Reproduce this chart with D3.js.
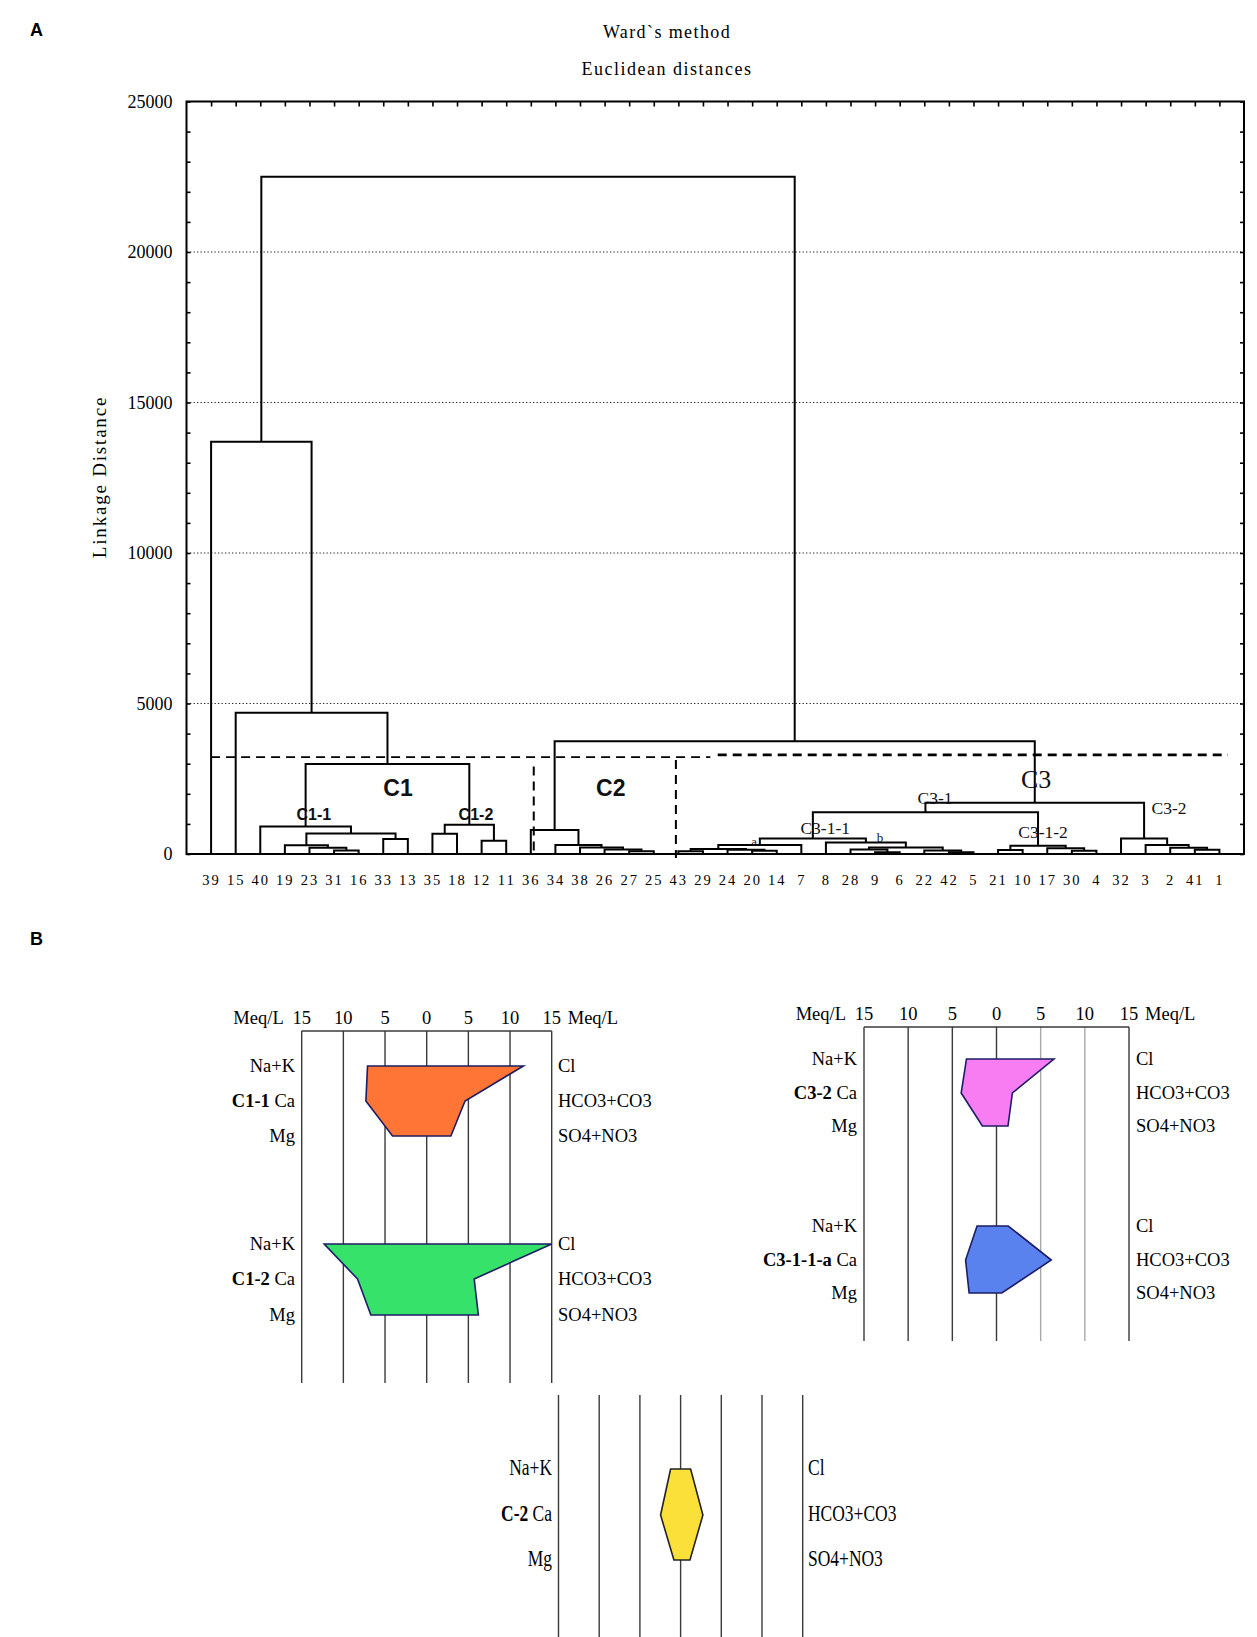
<!DOCTYPE html>
<html><head><meta charset="utf-8">
<script src="https://cdn.jsdelivr.net/npm/d3@7"></script>
<style>body{margin:0;background:#fff}svg{display:block}</style>
</head><body>
<svg id="chart" width="1257" height="1637"></svg>
<script>
// ---------------- DATA ----------------
const leaves = ["39","15","40","19","23","31","16","33","13","35","18","12","11","36","34","38","26","27","25","43","29","24","20","14","7","8","28","9","6","22","42","5","21","10","17","30","4","32","3","2","41","1"];
// [left node, right node, linkage distance]; "mN" = result of merge N
const merges = [
  ["31","16",120],["23","m0",210],["19","m1",290],["33","13",500],["m2","m3",685],["40","m4",910],
  ["35","18",675],["12","11",440],["m6","m7",970],["m5","m8",2990],["15","m9",4690],["39","m10",13700],
  ["27","25",90],["26","m12",150],["38","m13",220],["34","m14",300],["36","m15",800],
  ["43","29",90],["20","14",110],["24","m18",140],["m17","m19",170],["m20","7",295],
  ["9","6",60],["28","m22",150],["42","5",60],["22","m24",120],["m23","m25",220],["8","m26",386],
  ["m21","m27",519],
  ["21","10",130],["30","4",110],["17","m30",190],["m29","m31",276],
  ["m28","m32",1390],
  ["41","1",140],["2","m34",210],["3","m35",300],["32","m36",519],
  ["m33","m37",1700],["m16","m38",3750],["m11","m39",22500]
];
const yTickValues = [0,5000,10000,15000,20000,25000];
const gridValues = [5000,10000,15000,20000];
// phenon (cut) line segments: [from leaf pos, to leaf pos, level]
const cutSegments = [[1,21.3,3217],[21.6,42.35,3293]];
// vertical dashed separators: [leaf pos, top level]
const separators = [[14.12,2904],[19.9,3127]];
// cluster annotations: [text, leaf pos, level, kind]
const clusterLabels = [
  ["C1",8.6,1930,"big"],["C2",17.25,1930,"big"],["C1-1",5.18,1130,"sub"],["C1-2",11.77,1130,"sub"],
  ["C3",34.55,2195,"c3"],["C3-1",30.44,1663,"c3s"],["C3-2",39.95,1330,"c3s"],
  ["C3-1-1",25.97,665,"c3s"],["C3-1-2",34.83,532,"c3s"],["a",23.08,266,"tiny"],["b",28.2,400,"tiny"]
];

// Stiff diagrams
const stiffGroups = ["C1-1","C1-2","C3-2","C3-1-1-a","C-2"];
const cations = ["Na+K","Ca","Mg"];
const anions = ["Cl","HCO3+CO3","SO4+NO3"];
const cationMeq = [[7.1,7.3,4.1],[12.3,8.3,6.7],[3.4,4.0,1.6],[2.2,3.5,3.1],[1.23,2.46,0.82]];
const anionMeq  = [[11.6,4.6,2.9],[15.0,5.7,6.2],[6.5,1.8,1.3],[1.33,6.2,0.6],[1.23,2.74,1.15]];
const stiffTicks = [-15,-10,-5,0,5,10,15];
const groupColors = ["#fe7535","#36e26a","#f87cf2","#5a82ee","#fbe03a"];

// ---------------- CHART ----------------
const svg = d3.select("#chart");
const serif = "'Liberation Serif','Times New Roman',serif";
const sans = "'Liberation Sans',Arial,sans-serif";

svg.append("text").attr("x",30).attr("y",36).attr("font-family",sans).attr("font-weight","bold").attr("font-size",18).text("A");
svg.append("text").attr("x",30).attr("y",945).attr("font-family",sans).attr("font-weight","bold").attr("font-size",18).text("B");

const x = d3.scaleLinear().domain([0,43]).range([186.5,1244]);
const y = d3.scaleLinear().domain([0,25000]).range([854,101.5]);

svg.append("text").attr("x",667).attr("y",38).attr("text-anchor","middle").attr("font-family",serif)
  .attr("font-size",18).attr("letter-spacing",1.4).text("Ward`s method");
svg.append("text").attr("x",667).attr("y",75).attr("text-anchor","middle").attr("font-family",serif)
  .attr("font-size",18).attr("letter-spacing",1.5).text("Euclidean distances");
svg.append("text").attr("transform","translate(106,477) rotate(-90)").attr("text-anchor","middle")
  .attr("font-family",serif).attr("font-size",19).attr("letter-spacing",1.8).text("Linkage Distance");

const g = svg.append("g");
// grid
g.selectAll("line.grid").data(gridValues).join("line").attr("class","grid")
  .attr("x1",x(0)).attr("x2",x(43)).attr("y1",d=>y(d)).attr("y2",d=>y(d))
  .attr("stroke","#222").attr("stroke-width",1.2).attr("stroke-dasharray","1.3,2.2");

// axes
const minor = d3.range(0,25001,1000);
const axL = g.append("g").attr("transform",`translate(${x(0)},0)`)
  .call(d3.axisLeft(y).tickValues(minor).tickSizeInner(-4).tickSizeOuter(0).tickPadding(14)
    .tickFormat(d=>yTickValues.includes(d)?d:""));
axL.selectAll("text").attr("font-family",serif).attr("font-size",18).attr("fill","#000");
const axR = g.append("g").attr("transform",`translate(${x(43)},0)`)
  .call(d3.axisRight(y).tickValues(minor).tickSizeInner(-4).tickSizeOuter(0).tickFormat(""));
const axT = g.append("g").attr("transform",`translate(0,${y(25000)})`)
  .call(d3.axisTop(x).tickValues(d3.range(1,43)).tickSizeInner(-5).tickSizeOuter(0).tickFormat(""));
const axB = g.append("g").attr("transform",`translate(0,${y(0)})`)
  .call(d3.axisBottom(x).tickValues(d3.range(1,43)).tickSize(0).tickPadding(21).tickFormat(i=>leaves[i-1]));
axB.selectAll("text").attr("font-family",serif).attr("font-size",14.5).attr("letter-spacing",2).attr("fill","#000");
[axL,axR,axT,axB].forEach(a=>{a.select(".domain").remove(); a.selectAll("line").attr("stroke","#000").attr("stroke-width",1.6);});
g.append("rect").attr("x",x(0)).attr("y",y(25000)).attr("width",x(43)-x(0)).attr("height",y(0)-y(25000))
  .attr("fill","none").attr("stroke","#000").attr("stroke-width",2);

// dendrogram
const pos = {};
leaves.forEach((l,i)=>pos[l]={p:i+1,h:0});
const links = merges.map(([a,b,h],i)=>{
  const A=pos[a], B=pos[b];
  pos["m"+i]={p:(A.p+B.p)/2,h:h};
  return {A,B,h};
});
g.selectAll("path.link").data(links).join("path").attr("class","link")
  .attr("d",d=>`M${x(d.A.p)},${y(d.A.h)}V${y(d.h)}H${x(d.B.p)}V${y(d.B.h)}`)
  .attr("fill","none").attr("stroke","#000").attr("stroke-width",2);

// cut line & separators
g.selectAll("line.cut").data(cutSegments).join("line").attr("class","cut")
  .attr("x1",d=>x(d[0])).attr("x2",d=>x(d[1])).attr("y1",d=>y(d[2])).attr("y2",d=>y(d[2]))
  .attr("stroke","#000").attr("stroke-width",(d,i)=>i?2.6:1.8).attr("stroke-dasharray","9,6");
g.selectAll("line.sep").data(separators).join("line").attr("class","sep")
  .attr("x1",d=>x(d[0])).attr("x2",d=>x(d[0])).attr("y1",d=>y(d[1])).attr("y2",(d,i)=>y(0)+(i?4:0))
  .attr("stroke","#000").attr("stroke-width",2).attr("stroke-dasharray","9,6");

// cluster labels
const lblStyle = {
  big:{f:sans,w:"bold",s:23}, sub:{f:sans,w:"bold",s:16},
  c3:{f:serif,w:"normal",s:26}, c3s:{f:serif,w:"normal",s:17.5}, tiny:{f:serif,w:"normal",s:13}
};
g.selectAll("text.cl").data(clusterLabels).join("text").attr("class","cl")
  .attr("x",d=>x(d[1])).attr("y",d=>y(d[2])).attr("text-anchor","middle")
  .attr("font-family",d=>lblStyle[d[3]].f).attr("font-weight",d=>lblStyle[d[3]].w)
  .attr("font-size",d=>lblStyle[d[3]].s).attr("fill","#111").text(d=>d[0]);

// ---------------- STIFF DIAGRAMS ----------------
const panels = [
  {groups:[0,1], x1:301.7, x2:551.7, top:1031, bottom:1383, header:1024, rows:[[1066,1101,1136],[1244,1279,1315]],
   lblL:295, lblR:558, font:18.5, sx:1, grey:[]},
  {groups:[2,3], x1:864, x2:1129, top:1027, bottom:1341, header:1020, rows:[[1059,1093,1126],[1226,1260,1293]],
   lblL:857, lblR:1136, font:18.5, sx:1, grey:[5,10]},
  {groups:[4], x1:558.5, x2:802.7, top:1395, bottom:1637, header:null, rows:[[1469,1515,1560]],
   lblL:552, lblR:808, font:23, sx:0.76, grey:[]}
];
panels.forEach(P=>{
  const s = d3.scaleLinear().domain([-15,15]).range([P.x1,P.x2]);
  const pg = svg.append("g");
  pg.selectAll("line.v").data(stiffTicks).join("line").attr("class","v")
    .attr("x1",d=>s(d)).attr("x2",d=>s(d)).attr("y1",P.top).attr("y2",P.bottom)
    .attr("stroke",d=>P.grey.includes(d)?"#a8a8a8":"#3a3a3a").attr("stroke-width",1.4);
  if(P.header!==null){
    pg.append("line").attr("x1",s(-15)).attr("x2",s(15)).attr("y1",P.top).attr("y2",P.top).attr("stroke","#3a3a3a").attr("stroke-width",1.4);
    pg.selectAll("text.tk").data(stiffTicks).join("text").attr("class","tk")
      .attr("x",d=>s(d)).attr("y",P.header).attr("text-anchor","middle").attr("font-family",serif)
      .attr("font-size",P.font).text(d=>Math.abs(d));
    pg.append("text").attr("x",s(-15)-18).attr("y",P.header).attr("text-anchor","end").attr("font-family",serif).attr("font-size",P.font).text("Meq/L");
    pg.append("text").attr("x",s(15)+16).attr("y",P.header).attr("text-anchor","start").attr("font-family",serif).attr("font-size",P.font).text("Meq/L");
  }
  P.groups.forEach((gi,k)=>{
    const r = P.rows[k];
    const c = cationMeq[gi], a = anionMeq[gi];
    const pts = [[s(-c[0]),r[0]],[s(a[0]),r[0]],[s(a[1]),r[1]],[s(a[2]),r[2]],[s(-c[2]),r[2]],[s(-c[1]),r[1]]];
    pg.append("path").attr("d",d3.line()(pts)+"Z").attr("fill",groupColors[gi])
      .attr("stroke",gi===4?"#222":"#1c1c66").attr("stroke-width",1.6).attr("stroke-linejoin","miter");
    cations.forEach((cn,j)=>{
      const t = pg.append("text").attr("transform",`translate(${P.lblL},${r[j]+6}) scale(${P.sx},1)`)
        .attr("text-anchor","end").attr("font-family",serif).attr("font-size",P.font);
      if(j===1){ t.append("tspan").attr("font-weight","bold").text(stiffGroups[gi]+" "); }
      t.append("tspan").text(cn);
    });
    anions.forEach((an,j)=>{
      pg.append("text").attr("transform",`translate(${P.lblR},${r[j]+6}) scale(${P.sx},1)`)
        .attr("text-anchor","start").attr("font-family",serif).attr("font-size",P.font).text(an);
    });
  });
});
</script>
</body></html>
